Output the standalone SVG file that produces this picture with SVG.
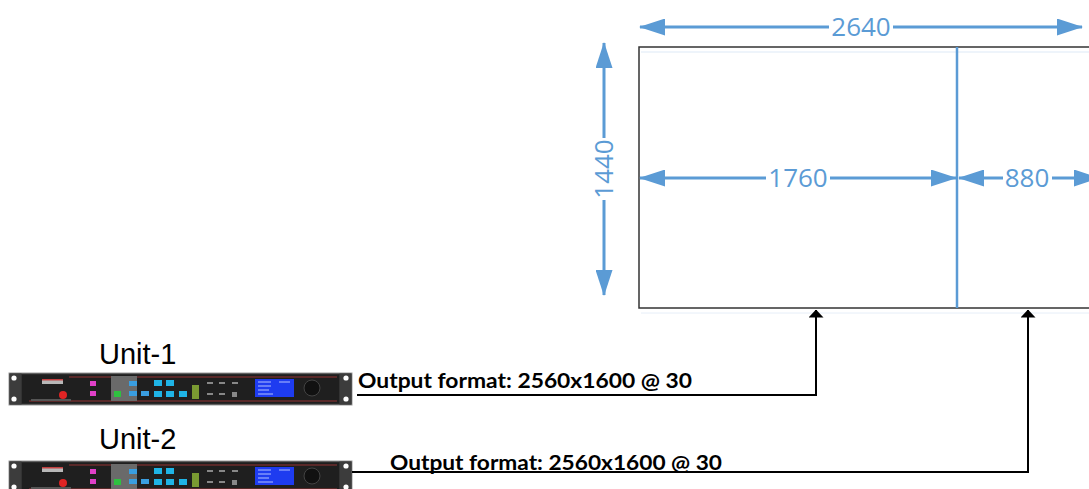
<svg xmlns="http://www.w3.org/2000/svg" xmlns:xlink="http://www.w3.org/1999/xlink" width="1089" height="489" viewBox="0 0 1089 489">
<style>
.dim{fill:none;stroke:#5B9BD5;stroke-width:3}
.dimtxt{font-family:"Open Sans","Liberation Sans",sans-serif;font-size:26px;fill:#5B9BD5;text-anchor:middle}
.unit{font-family:"Liberation Sans",Arial,sans-serif;font-size:29px;fill:#000}
.fmt{font-family:Lato,"Open Sans","Liberation Sans",sans-serif;font-weight:bold;font-size:21px;fill:#000}
.conn{fill:none;stroke:#000;stroke-width:2}
</style>
<defs>
<marker id="bh" viewBox="0 0 26 17" refX="25" refY="8.5" markerWidth="26" markerHeight="17" markerUnits="userSpaceOnUse" orient="auto-start-reverse">
<path d="M0,0 L26,8.5 L0,17 z" fill="#5B9BD5"/>
</marker>
<marker id="kh" viewBox="0 0 8 15" refX="7.5" refY="7.5" markerWidth="8" markerHeight="15" markerUnits="userSpaceOnUse" orient="auto">
<path d="M0,0 L8,7.5 L0,15 z" fill="#000"/>
</marker>
<g id="device">
<rect x="0" y="0" width="343" height="32" fill="#2a2a2a" stroke="#9a9a9a" stroke-width="1"/>
<rect x="0.5" y="0.5" width="12" height="31" fill="#3c3c3c"/>
<rect x="330.5" y="0.5" width="12" height="31" fill="#3c3c3c"/>
<circle cx="5" cy="5" r="2.6" fill="#fff"/>
<circle cx="5" cy="26" r="2.6" fill="#fff"/>
<circle cx="337" cy="5" r="2.6" fill="#fff"/>
<circle cx="337" cy="26" r="2.6" fill="#fff"/>
<rect x="13" y="2" width="317" height="28" fill="#1f1f1f"/>
<line x1="60" y1="4" x2="328" y2="4" stroke="#6e2e2e" stroke-width="1.5"/>
<line x1="20" y1="28" x2="328" y2="28" stroke="#6e2e2e" stroke-width="1.5"/>
<rect x="33" y="6" width="21" height="5" fill="#b8b8b8"/>
<rect x="33" y="6" width="21" height="1.5" fill="#c04040"/>
<rect x="22" y="26" width="40" height="2" fill="#555"/>
<circle cx="54" cy="22" r="4" fill="#e02424"/>
<rect x="81" y="8" width="6" height="5" fill="#e040c8"/>
<rect x="81" y="18" width="6" height="5" fill="#e040c8"/>
<rect x="102" y="3" width="26" height="25" fill="#6a6a6a"/>
<rect x="105" y="18" width="7" height="6" fill="#2fc040"/>
<rect x="120" y="8" width="8" height="5" fill="#3a9ee0"/>
<rect x="120" y="18" width="8" height="5" fill="#3a9ee0"/>
<rect x="132" y="18" width="8" height="5" fill="#3a9ee0"/>
<rect x="145" y="7" width="8" height="6" fill="#1fb4e6"/>
<rect x="157" y="7" width="8" height="6" fill="#1fb4e6"/>
<rect x="145" y="18" width="8" height="6" fill="#1fb4e6"/>
<rect x="157" y="18" width="8" height="6" fill="#1fb4e6"/>
<rect x="170" y="18" width="8" height="6" fill="#1fb4e6"/>
<rect x="183" y="12" width="7" height="14" fill="#7a9a32"/>
<rect x="198" y="9" width="6" height="2" fill="#888"/>
<rect x="210" y="9" width="6" height="2" fill="#888"/>
<rect x="223" y="9" width="6" height="2" fill="#888"/>
<rect x="198" y="20" width="6" height="2" fill="#888"/>
<rect x="210" y="20" width="6" height="2" fill="#888"/>
<rect x="223" y="19" width="5" height="5" fill="#888"/>
<rect x="246" y="6" width="39" height="18" fill="#1e3cf0"/>
<line x1="249" y1="9" x2="262" y2="9" stroke="#b0c0ff" stroke-width="1"/>
<line x1="270" y1="9" x2="281" y2="9" stroke="#b0c0ff" stroke-width="1"/>
<line x1="249" y1="13" x2="262" y2="13" stroke="#b0c0ff" stroke-width="1"/>
<line x1="249" y1="17" x2="260" y2="17" stroke="#b0c0ff" stroke-width="1"/>
<line x1="249" y1="21" x2="264" y2="21" stroke="#b0c0ff" stroke-width="1"/>
<circle cx="303" cy="15" r="8" fill="#111" stroke="#444" stroke-width="1"/>
</g>
</defs>

<g id="screen">
<rect x="639" y="47" width="470" height="261" fill="#fff" stroke="#333" stroke-width="1.5"/>
<line x1="641" y1="52" x2="1089" y2="52" stroke="#dde9f6" stroke-width="1"/>
<line x1="641" y1="313" x2="1089" y2="313" stroke="#e6eef8" stroke-width="1"/>
<line x1="957" y1="47" x2="957" y2="308" stroke="#5B9BD5" stroke-width="2.5"/>
</g>

<g id="dimensions">
<path class="dim" d="M640,27 L829,27 M893,27 L1082,27" marker-start="url(#bh)" marker-end="url(#bh)"/>
<text class="dimtxt" x="861" y="36">2640</text>
<path class="dim" d="M640,178 L766,178 M830,178 L956,178" marker-start="url(#bh)" marker-end="url(#bh)"/>
<text class="dimtxt" x="798" y="187">1760</text>
<path class="dim" d="M959,178 L1003,178 M1052,178 L1099,178" marker-start="url(#bh)" marker-end="url(#bh)"/>
<text class="dimtxt" x="1027" y="187">880</text>
<path class="dim" d="M604,43 L604,138 M604,200 L604,295" marker-start="url(#bh)" marker-end="url(#bh)"/>
<text class="dimtxt" transform="translate(613,169) rotate(-90)" x="0" y="0">1440</text>
</g>

<g id="unit-1">
<text class="unit" x="99" y="364">Unit-1</text>
<use xlink:href="#device" href="#device" x="9" y="373"/>
</g>

<g id="unit-2">
<text class="unit" x="99" y="449">Unit-2</text>
<use xlink:href="#device" href="#device" x="9" y="461"/>
</g>

<g id="connectors">
<path class="conn" d="M357,395 L816,395 L816,310" marker-end="url(#kh)"/>
<text class="fmt" x="358" y="388" textLength="334" lengthAdjust="spacingAndGlyphs">Output format: 2560x1600 @ 30</text>
<path class="conn" d="M352,472 L1028,472 L1028,310" marker-end="url(#kh)"/>
<text class="fmt" x="390" y="470" textLength="332" lengthAdjust="spacingAndGlyphs">Output format: 2560x1600 @ 30</text>
</g>
</svg>
